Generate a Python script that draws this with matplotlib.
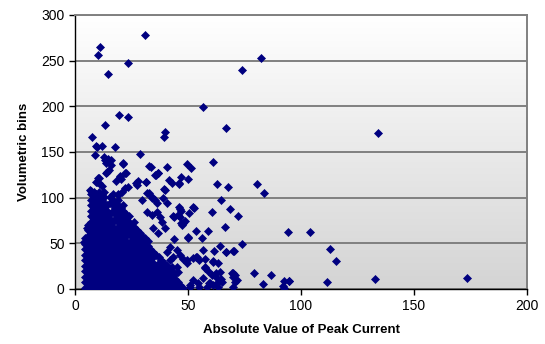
import matplotlib
matplotlib.use("Agg")
import matplotlib.pyplot as plt
import numpy as np
from matplotlib.colors import LinearSegmentedColormap

# ---- isolated points far from the cloud: (Absolute Value of Peak Current, Volumetric bins)
far_points = [
    (82.4, 252.7), (134.1, 170.8), (80.4, 115.3), (83.6, 105.5), (94.1, 62.4), (104.1, 62.4),
    (112.8, 43.5), (115.3, 30.7), (79.2, 17.9), (86.9, 15.0), (83.2, 5.1), (92.3, 9.1),
    (94.5, 9.1), (92.2, 3.3), (92.5, 1.4), (111.6, 7.7), (132.9, 11.0), (173.3, 12.0),
    (73.7, 240.2), (56.8, 199.7), (66.8, 176.7), (61.2, 139.1), (62.8, 115.0), (67.7, 111.7),
    (64.6, 97.8), (68.6, 88.0), (60.5, 84.3), (66.4, 68.2), (73.9, 49.6), (72.3, 80.0),
]

# ---- upper fringe of the cloud (high bins)
upper_points = [
    (11.2, 264.7), (10.2, 256.6), (31.0, 278.5), (23.6, 247.2), (14.6, 235.2), (19.3, 190.6),
    (23.3, 188.7), (13.3, 179.6), (7.4, 166.1), (39.7, 172.0), (39.4, 166.8), (9.3, 157.0),
    (9.9, 155.5), (12.1, 156.3), (17.7, 155.5), (8.8, 147.1), (28.9, 148.2), (13.0, 144.9),
    (13.3, 141.3), (15.9, 141.3), (21.2, 137.2), (32.9, 135.0), (33.6, 133.3), (40.6, 133.3),
    (49.7, 137.2), (51.2, 132.5), (13.6, 127.4), (14.9, 130.3), (35.7, 124.9), (36.8, 126.7),
    (22.1, 126.7), (20.1, 123.0), (18.1, 118.6), (46.9, 123.0), (50.1, 120.5), (41.7, 119.4),
    (42.8, 115.8), (45.9, 115.8), (39.8, 108.4), (31.3, 116.9), (28.0, 118.3), (27.0, 115.8),
    (10.8, 121.2), (9.6, 117.5), (6.9, 107.7), (14.7, 142.0), (13.7, 138.3), (15.9, 135.8),
    (21.4, 137.7), (14.0, 128.5), (22.6, 126.7), (19.9, 123.8), (20.4, 120.2), (36.6, 126.7),
    (35.4, 124.9), (39.5, 109.2), (10.0, 121.2), (9.1, 117.5), (10.6, 115.8), (11.8, 112.8),
    (6.8, 108.1), (27.3, 113.9), (31.4, 117.2), (22.1, 110.3), (23.6, 112.0), (20.7, 106.6),
    (19.2, 103.0), (31.7, 104.8), (33.9, 100.4), (35.4, 97.5), (39.1, 99.3), (40.6, 94.5),
    (29.5, 97.5), (46.2, 114.7), (32.9, 104.8), (33.9, 99.3), (36.2, 93.9),
]

# ---- right-hand fringe of the cloud (mid / low bins)
side_points = [
    (53.5, 63.5), (58.8, 63.5), (50.0, 56.2), (56.2, 56.2), (43.8, 54.4), (46.3, 87.3),
    (47.0, 85.4), (50.3, 83.6), (52.7, 88.4), (43.7, 79.2), (46.5, 79.2), (46.8, 72.0),
    (48.7, 74.5), (64.2, 46.8), (61.6, 41.6), (67.0, 40.9), (70.4, 42.0), (69.8, 17.9),
    (70.1, 16.5), (70.7, 15.1), (64.7, 11.3), (62.4, 17.9), (59.2, 6.2), (62.7, 6.2),
    (53.5, 35.4), (52.3, 33.6), (54.7, 31.8), (56.5, 42.7), (57.5, 24.4), (61.2, 29.9),
    (49.4, 31.8), (42.8, 24.4), (45.7, 19.0), (4.0, 51.8), (5.2, 66.5), (46.2, 90.1),
    (43.5, 80.0), (52.4, 89.5), (45.7, 81.0), (47.9, 72.6), (47.2, 70.1), (50.1, 56.6),
    (66.8, 40.2), (70.0, 41.6), (47.9, 32.5), (49.4, 28.1), (45.0, 24.4), (59.0, 20.0),
    (60.5, 15.3), (56.8, 11.7), (64.2, 19.0), (62.7, 11.7), (64.9, 8.0), (63.4, 2.5),
    (69.3, 17.9), (70.0, 12.8), (70.8, 8.0), (69.8, 1.9), (71.5, 9.9), (59.7, 6.9),
    (61.2, 4.4), (58.3, 1.9), (52.4, 9.9), (54.6, 6.2), (50.9, 4.4), (94.6, 8.8),
    (31.7, 84.7), (33.9, 81.0), (36.4, 84.7), (37.6, 78.5), (38.4, 73.7), (39.8, 66.5),
    (36.9, 61.0), (34.6, 66.5), (42.0, 46.3), (45.0, 42.7), (40.6, 40.9), (43.5, 35.4),
    (46.5, 37.2), (42.0, 31.8), (57.5, 22.7), (51.0, 2.0), (55.0, 2.0), (57.5, 32.5),
    (63.4, 28.1), (61.2, 31.0), (53.8, 35.4),
]

# ---- dense core of the cloud, read row by row (bins level -> currents on that row)
core_rows_bins = [1.5, 4.5, 7.5, 10.5, 13.5, 16.5, 19.5, 22.5, 25.5, 28.5, 31.5, 34.5,
                  37.5, 40.5, 43.5, 46.5, 49.5, 52.5, 55.5, 58.5, 61.5, 64.5, 67.5, 70.5,
                  73.5, 76.5, 79.5, 82.5, 85.5, 88.5, 91.5, 94.5, 97.5, 100.5, 103.5, 106.5]
core_rows_current = [
    [4.6, 7.0, 9.4, 11.8, 14.2, 16.6, 19.0, 21.4, 23.8, 26.2, 28.6, 31.0, 33.4, 35.8, 38.2, 40.6, 43.0, 45.4, 48.0],
    [5.8, 8.2, 10.6, 13.0, 15.4, 17.8, 20.2, 22.6, 25.0, 27.4, 29.8, 32.2, 34.6, 37.0, 39.4, 41.8, 44.2, 46.6],
    [4.6, 7.0, 9.4, 11.8, 14.2, 16.6, 19.0, 21.4, 23.8, 26.2, 28.6, 31.0, 33.4, 35.8, 38.2, 40.6, 43.0, 45.4],
    [5.8, 8.2, 10.6, 13.0, 15.4, 17.8, 20.2, 22.6, 25.0, 27.4, 29.8, 32.2, 34.6, 37.0, 39.4, 41.8, 44.2],
    [4.6, 7.0, 9.4, 11.8, 14.2, 16.6, 19.0, 21.4, 23.8, 26.2, 28.6, 31.0, 33.4, 35.8, 38.2, 40.6, 43.0],
    [5.8, 8.2, 10.6, 13.0, 15.4, 17.8, 20.2, 22.6, 25.0, 27.4, 29.8, 32.2, 34.6, 37.0, 39.4, 41.8, 44.2],
    [4.6, 7.0, 9.4, 11.8, 14.2, 16.6, 19.0, 21.4, 23.8, 26.2, 28.6, 31.0, 33.4, 35.8, 38.2, 40.6, 43.0],
    [5.8, 8.2, 10.6, 13.0, 15.4, 17.8, 20.2, 22.6, 25.0, 27.4, 29.8, 32.2, 34.6, 37.0, 39.4, 41.8],
    [4.6, 7.0, 9.4, 11.8, 14.2, 16.6, 19.0, 21.4, 23.8, 26.2, 28.6, 31.0, 33.4, 35.8, 38.2, 40.6],
    [5.8, 8.2, 10.6, 13.0, 15.4, 17.8, 20.2, 22.6, 25.0, 27.4, 29.8, 32.2, 34.6, 37.0, 39.4],
    [4.6, 7.0, 9.4, 11.8, 14.2, 16.6, 19.0, 21.4, 23.8, 26.2, 28.6, 31.0, 33.4, 38.2],
    [5.8, 8.2, 10.6, 13.0, 15.4, 17.8, 20.2, 22.6, 25.0, 27.4, 29.8, 32.2, 34.6, 37.0],
    [4.6, 7.0, 9.4, 11.8, 14.2, 16.6, 19.0, 21.4, 23.8, 26.2, 28.6, 31.0, 33.4, 35.8],
    [5.8, 8.2, 10.6, 13.0, 15.4, 17.8, 20.2, 22.6, 25.0, 27.4, 29.8, 32.2, 34.6],
    [4.6, 7.0, 9.4, 11.8, 14.2, 16.6, 19.0, 21.4, 23.8, 26.2, 28.6, 31.0, 33.4],
    [5.8, 8.2, 10.6, 13.0, 15.4, 17.8, 20.2, 22.6, 25.0, 27.4, 29.8, 32.2],
    [4.6, 7.0, 9.4, 11.8, 14.2, 16.6, 19.0, 21.4, 23.8, 26.2, 28.6, 31.0],
    [5.8, 8.2, 10.6, 13.0, 15.4, 17.8, 20.2, 22.6, 25.0, 27.4, 29.8, 32.2],
    [4.6, 7.0, 9.4, 11.8, 14.2, 16.6, 19.0, 21.4, 26.2, 28.6, 31.0],
    [5.8, 8.2, 10.6, 13.0, 15.4, 17.8, 20.2, 22.6, 25.0, 27.4, 29.8],
    [7.0, 9.4, 11.8, 14.2, 16.6, 19.0, 21.4, 23.8, 26.2, 28.6],
    [5.8, 8.2, 10.6, 13.0, 15.4, 17.8, 20.2, 22.6, 25.0, 27.4],
    [7.0, 9.4, 11.8, 14.2, 16.6, 19.0, 21.4, 23.8, 26.2],
    [5.8, 8.2, 10.6, 13.0, 15.4, 20.2, 22.6, 25.0],
    [7.0, 9.4, 11.8, 14.2, 16.6, 19.0, 21.4, 23.8, 26.2],
    [8.2, 10.6, 13.0, 15.4, 17.8, 20.2, 22.6],
    [7.0, 9.4, 11.8, 14.2, 19.0, 21.4, 23.8],
    [8.2, 10.6, 13.0, 15.4, 17.8, 20.2, 22.6],
    [7.0, 9.4, 11.8, 14.2, 16.6, 19.0, 21.4],
    [8.2, 10.6, 13.0, 17.8, 20.2],
    [7.0, 9.4, 11.8, 14.2, 16.6, 19.0, 21.4],
    [8.2, 10.6, 13.0, 15.4, 17.8],
    [7.0, 9.4, 11.8, 16.6, 19.0],
    [8.2, 10.6, 13.0, 15.4],
    [7.0, 9.4, 11.8, 16.6, 19.0],
    [8.2, 10.6, 13.0],
]

x_ticks = [0, 50, 100, 150, 200]
y_ticks = [0, 50, 100, 150, 200, 250, 300]
x_label = "Absolute Value of Peak Current"
y_label = "Volumetric bins"

all_x, all_y = [], []
for yb, xs in zip(core_rows_bins, core_rows_current):
    all_x.extend(xs)
    all_y.extend([yb] * len(xs))
for group in (far_points, upper_points, side_points):
    for px, py in group:
        all_x.append(px)
        all_y.append(py)

plt.rcParams['font.family'] = ['Liberation Sans', 'DejaVu Sans']

fig = plt.figure(figsize=(5.45, 3.44), dpi=100)
ax = fig.add_axes([0.1376, 0.160, 0.8294, 0.7964])

grad = np.linspace(0, 1, 256).reshape(-1, 1)
cmap = LinearSegmentedColormap.from_list("bg", ["#d4d4d4", "#ffffff"])
ax.imshow(grad, aspect='auto', cmap=cmap, origin='lower',
          extent=[0, 200, 0, 300], zorder=0)

ax.set_xlim(0, 200)
ax.set_ylim(0, 300)

for t in y_ticks:
    ax.axhline(t, color="#808080", lw=1.4, zorder=1)

ax.plot(all_x, all_y, linestyle='none', marker='D', markersize=3.7,
        markerfacecolor='#000080', markeredgecolor='#000080', markeredgewidth=0.5,
        zorder=3, clip_on=True)

for side in ['top', 'right']:
    ax.spines[side].set_color('#808080')
    ax.spines[side].set_linewidth(1.4)
ax.spines['left'].set_color('black')
ax.spines['bottom'].set_color('black')
ax.spines['left'].set_linewidth(1.0)
ax.spines['bottom'].set_linewidth(1.0)

ax.set_xticks(x_ticks)
ax.set_yticks(y_ticks)
ax.tick_params(axis='both', direction='out', length=4, width=1, labelsize=10, colors='black')
ax.set_xlabel(x_label, fontsize=9.5, fontweight='bold', labelpad=8)
ax.set_ylabel(y_label, fontsize=9.5, fontweight='bold', labelpad=8)

fig.savefig("out.png", dpi=100)
